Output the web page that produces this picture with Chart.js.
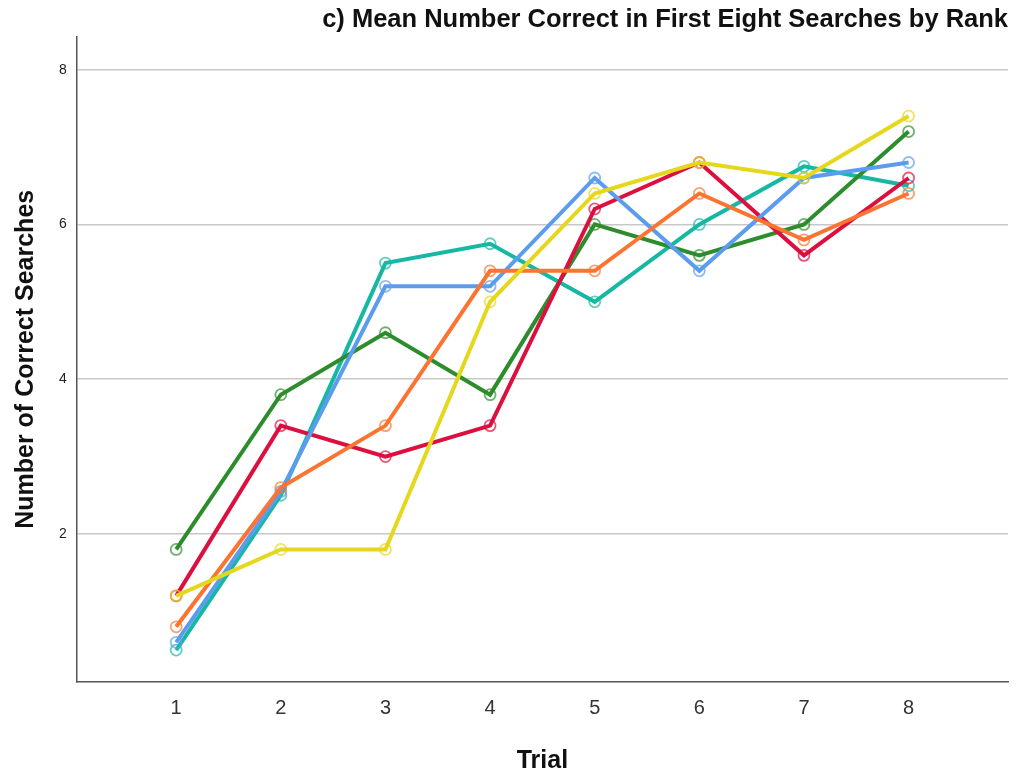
<!DOCTYPE html>
<html>
<head>
<meta charset="utf-8">
<script src="https://cdn.jsdelivr.net/npm/chart.js@4/dist/chart.umd.min.js"></script>
<style>
html,body{margin:0;padding:0;background:#fff;}
#wrap{width:1018px;height:778px;}
</style>
</head>
<body>
<div id="wrap"><canvas id="c" width="1018" height="778"></canvas></div>
<script>
const trials = [1, 2, 3, 4, 5, 6, 7, 8];
const xTickLabels = ['1','2','3','4','5','6','7','8'];
const yTickValues = [2, 4, 6, 8];

const seriesRed    = [1.2, 3.4, 3.0, 3.4, 6.2, 6.8, 5.6, 6.6];
const seriesBlue   = [0.6, 2.55, 5.2, 5.2, 6.6, 5.4, 6.6, 6.8];
const seriesOrange = [0.8, 2.6, 3.4, 5.4, 5.4, 6.4, 5.8, 6.4];
const seriesTeal   = [0.5, 2.5, 5.5, 5.75, 5.0, 6.0, 6.75, 6.5];
const seriesGreen  = [1.8, 3.8, 4.6, 3.8, 6.0, 5.6, 6.0, 7.2];
const seriesYellow = [1.2, 1.8, 1.8, 5.0, 6.4, 6.8, 6.6, 7.4];

function mk(vals, color) {
  return {
    data: trials.map((t, i) => ({x: t, y: vals[i]})),
    borderColor: color,
    backgroundColor: 'rgba(0,0,0,0)',
    borderWidth: 4,
    pointRadius: 5.5,
    pointBorderWidth: 1.8,
    pointBorderColor: color + 'b0',
    pointBackgroundColor: 'rgba(255,255,255,0)',
    tension: 0,
    clip: false
  };
}

const datasets = [
  mk(seriesYellow, '#e5d81c'),
  mk(seriesOrange, '#fb7431'),
  mk(seriesBlue, '#5b9cee'),
  mk(seriesRed, '#dc0f3e'),
  mk(seriesGreen, '#2d8c2b'),
  mk(seriesTeal, '#17b8a3')
];

new Chart(document.getElementById('c'), {
  type: 'line',
  data: { datasets },
  options: {
    responsive: false,
    animation: false,
    layout: { padding: { left: 8, right: 10, top: 2, bottom: 2 } },
    plugins: {
      legend: { display: false },
      tooltip: { enabled: false },
      title: {
        display: true,
        text: 'c) Mean Number Correct in First Eight Searches by Rank',
        align: 'end',
        color: '#111',
        font: { family: 'Liberation Sans, Arial', size: 25.5, weight: 'bold' },
        padding: { top: 3, bottom: 1 }
      }
    },
    scales: {
      x: {
        type: 'linear',
        min: 0.05,
        max: 8.95,
        afterBuildTicks: (ax) => { ax.ticks = trials.map(v => ({value: v})); },
        ticks: {
          callback: (v) => xTickLabels[trials.indexOf(v)] ?? '',
          color: '#333',
          font: { family: 'Liberation Sans, Arial', size: 20 },
          padding: 14
        },
        grid: { display: false, drawTicks: false },
        border: { color: '#555', width: 1.5 },
        title: {
          display: true,
          text: 'Trial',
          color: '#111',
          font: { family: 'Liberation Sans, Arial', size: 25, weight: 'bold' },
          padding: { top: 12, bottom: 0 }
        }
      },
      y: {
        type: 'linear',
        min: 0.087,
        max: 8.427,
        afterBuildTicks: (ax) => { ax.ticks = yTickValues.map(v => ({value: v})); },
        ticks: {
          color: '#222',
          font: { family: 'Liberation Sans, Arial', size: 14 },
          padding: 10
        },
        grid: { color: '#c8c8c8', lineWidth: 1.5, drawTicks: false },
        border: { color: '#555', width: 1.5 },
        title: {
          display: true,
          text: 'Number of Correct Searches',
          color: '#111',
          font: { family: 'Liberation Sans, Arial', size: 25, weight: 'bold' },
          padding: { top: 3, bottom: 8 }
        }
      }
    }
  }
});
</script>
</body>
</html>
